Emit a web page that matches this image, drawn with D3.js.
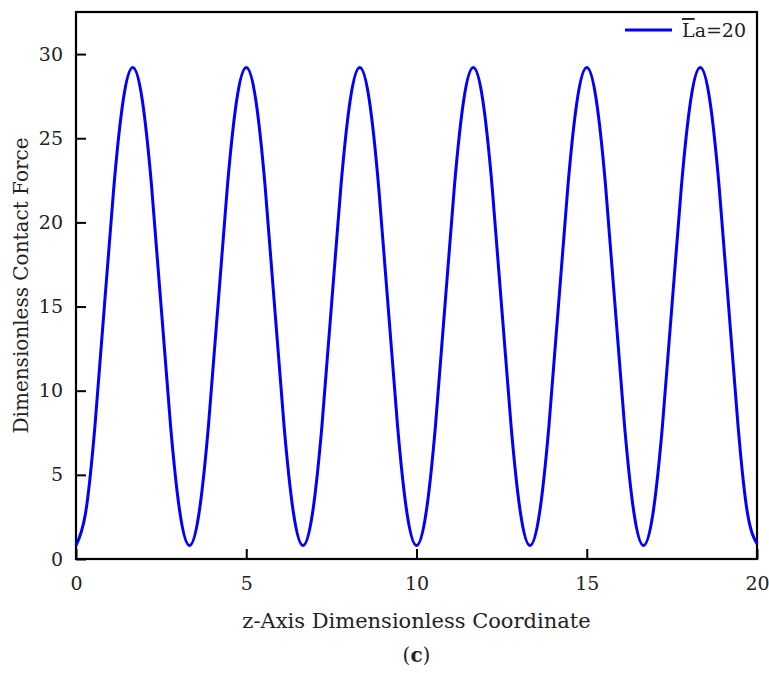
<!DOCTYPE html>
<html>
<head>
<meta charset="utf-8">
<title>Contact force</title>
<style>
  body { margin: 0; background: #fff; }
  svg text { font-family: "DejaVu Serif", "Liberation Serif", serif; fill: #222; }
</style>
</head>
<body>
<script src="https://d3js.org/d3.v7.min.js"></script>
<script>
// values
var zCoord = [0, 0.278, 0.556, 0.833, 1.111, 1.389, 1.667, 1.944, 2.222, 2.5, 2.778, 3.056,
  3.333, 3.611, 3.889, 4.167, 4.444, 4.722, 5, 5.278, 5.556, 5.833, 6.111, 6.389,
  6.667, 6.944, 7.222, 7.5, 7.778, 8.056, 8.333, 8.611, 8.889, 9.167, 9.444, 9.722,
  10, 10.278, 10.556, 10.833, 11.111, 11.389, 11.667, 11.944, 12.222, 12.5, 12.778, 13.056,
  13.333, 13.611, 13.889, 14.167, 14.444, 14.722, 15, 15.278, 15.556, 15.833, 16.111, 16.389,
  16.667, 16.944, 17.222, 17.5, 17.778, 18.056, 18.333, 18.611, 18.889, 19.167, 19.444, 19.722, 20];
var contactForce = [0.8, 2.7, 7.9, 15.0, 22.1, 27.3, 29.2, 27.3, 22.1, 15.0, 7.9, 2.7,
  0.8, 2.7, 7.9, 15.0, 22.1, 27.3, 29.2, 27.3, 22.1, 15.0, 7.9, 2.7,
  0.8, 2.7, 7.9, 15.0, 22.1, 27.3, 29.2, 27.3, 22.1, 15.0, 7.9, 2.7,
  0.8, 2.7, 7.9, 15.0, 22.1, 27.3, 29.2, 27.3, 22.1, 15.0, 7.9, 2.7,
  0.8, 2.7, 7.9, 15.0, 22.1, 27.3, 29.2, 27.3, 22.1, 15.0, 7.9, 2.7,
  0.8, 2.7, 7.9, 15.0, 22.1, 27.3, 29.2, 27.3, 22.1, 15.0, 7.9, 2.7, 0.9];
var xTicks = [0, 5, 10, 15, 20];
var yTicks = [0, 5, 10, 15, 20, 25, 30];
var seriesName = "a=20";

var width = 769, height = 673;
var pLeft = 76, pRight = 757, pTop = 12, pBottom = 559;

var svg = d3.select("body").append("svg")
    .attr("width", width)
    .attr("height", height);

var x = d3.scaleLinear().domain([0, 20]).range([pLeft, pRight]);
var y = d3.scaleLinear().domain([0, 32.5]).range([pBottom, pTop]);

// axes, ticks pointing inward
var xAxis = svg.append("g")
    .attr("transform", "translate(0," + pBottom + ")")
    .call(d3.axisBottom(x).tickValues(xTicks).tickSizeInner(-10).tickSizeOuter(0).tickPadding(18));
var yAxis = svg.append("g")
    .attr("transform", "translate(" + pLeft + ",0)")
    .call(d3.axisLeft(y).tickValues(yTicks).tickSizeInner(-10).tickSizeOuter(0).tickPadding(13));

[xAxis, yAxis].forEach(function(a) {
    a.select(".domain").remove();
    a.selectAll(".tick line").attr("stroke", "#000").attr("stroke-width", 2);
    a.selectAll(".tick text").style("font-size", "19px").attr("fill", "#222");
});

// frame
svg.append("rect")
    .attr("x", pLeft).attr("y", pTop)
    .attr("width", pRight - pLeft).attr("height", pBottom - pTop)
    .attr("fill", "none").attr("stroke", "#000").attr("stroke-width", 2.2);

var line = d3.line()
    .x(function(d, i) { return x(zCoord[i]); })
    .y(function(d) { return y(d); })
    .curve(d3.curveNatural);

svg.append("path")
    .datum(contactForce)
    .attr("d", line)
    .attr("fill", "none")
    .attr("stroke", "#0000ff")
    .attr("stroke-width", 3);

// legend
svg.append("line")
    .attr("x1", 625).attr("x2", 672).attr("y1", 30).attr("y2", 30)
    .attr("stroke", "#0000ff").attr("stroke-width", 3);
var leg = svg.append("text")
    .attr("x", 682).attr("y", 37)
    .style("font-size", "19px");
leg.append("tspan").style("text-decoration", "overline").text("L");
leg.append("tspan").text(seriesName);

// axis titles
svg.append("text")
    .attr("x", (pLeft + pRight) / 2).attr("y", 628)
    .attr("text-anchor", "middle")
    .style("font-size", "21px")
    .text("z-Axis Dimensionless Coordinate");

svg.append("text")
    .attr("transform", "translate(28," + (pTop + pBottom) / 2 + ") rotate(-90)")
    .attr("text-anchor", "middle")
    .style("font-size", "20px")
    .text("Dimensionless Contact Force");

var cap = svg.append("text")
    .attr("x", (pLeft + pRight) / 2).attr("y", 662)
    .attr("text-anchor", "middle")
    .style("font-size", "20px");
cap.append("tspan").text("(");
cap.append("tspan").style("font-weight", "bold").text("c");
cap.append("tspan").text(")");
</script>
</body>
</html>
